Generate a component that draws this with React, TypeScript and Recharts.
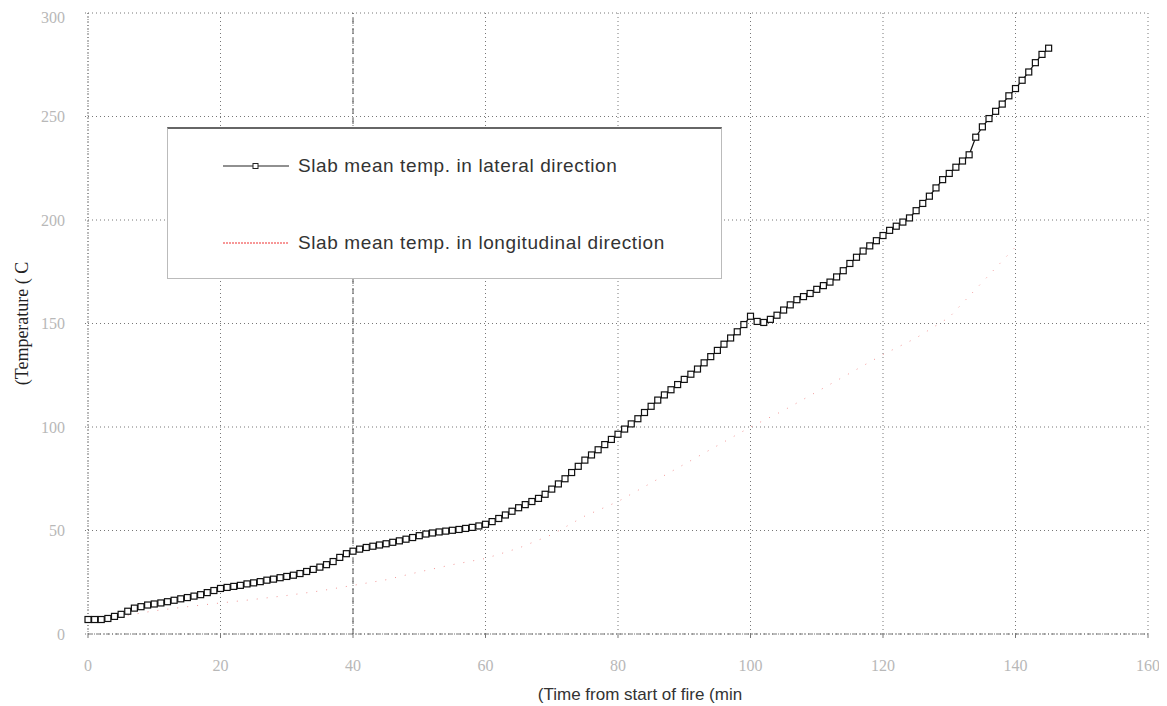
import React from 'react';
import {
  LineChart,
  Line,
  XAxis,
  YAxis,
  CartesianGrid,
  ReferenceLine,
} from 'recharts';

// lateral direction: one reading per minute, starting at t = 0
const lateralTemps = [
  7, 7, 7, 7.5, 8.5, 9.5, 11, 12.5, 13.2, 14,
  14.5, 15, 15.6, 16.3, 17, 17.6, 18.3, 19, 20, 21,
  22, 22.5, 23, 23.5, 24.2, 24.7, 25.3, 26, 26.5, 27.2,
  27.8, 28.4, 29.2, 30.2, 31.2, 32.3, 33.5, 35, 37, 38.8,
  40, 41, 41.8, 42.4, 43, 43.6, 44.3, 45, 45.8, 46.6,
  47.5, 48.3, 48.8, 49.3, 49.7, 50.1, 50.5, 51, 51.5, 52.2,
  53, 54.3, 55.8, 57.5, 59.3, 61, 62.5, 64, 65.5, 67.5,
  70, 72.5, 75, 78, 81, 84, 86.5, 89, 91.5, 94,
  96.5, 99, 101.5, 104, 107, 110, 113, 115.5, 118, 120.5,
  123, 125.5, 128, 131, 134, 137, 140, 143, 146, 149.5,
  153.5, 151, 150.5, 152, 154, 156.5, 159, 161.5, 163, 164.5,
  166.5, 168.3, 170, 172.5, 175.5, 179, 182, 185, 187.5, 190,
  192.5, 195, 197, 199, 201, 204.5, 208, 211.5, 215.5, 219.5,
  222.5, 225.5, 228.5, 231.5, 240, 245, 249, 252.5, 256, 260,
  263.5, 267.5, 271.5, 276, 280, 283,
];

// longitudinal direction: sparse readings
const longTimes = [0, 5, 10, 15, 20, 25, 30, 35, 40, 45, 50, 55, 60, 65, 70, 75, 80, 85, 90, 95, 100, 105, 110, 115, 120, 125, 130, 135, 140];
const longTemps = [7, 8.5, 11.2, 13.2, 15, 16.7, 18.6, 20.8, 23.5, 26.2, 30, 33.5, 36.5, 41.5, 48, 57, 64, 73, 82, 91, 100, 108, 117, 126, 135, 143, 153, 170, 187];

const xTicks = [0, 20, 40, 60, 80, 100, 120, 140, 160];
const yTicks = [0, 50, 100, 150, 200, 250, 300];

const lateralLabel = 'Slab mean temp. in lateral direction';
const longLabel = 'Slab mean temp. in longitudinal direction';

const lateralData = lateralTemps.map((v, i) => ({ t: i, lateral: v }));
const longData = longTimes.map((t, i) => ({ t, longitudinal: longTemps[i] }));

const SquareDot = (props: any) => {
  const { cx, cy, index } = props;
  if (cx == null || cy == null) return <g key={index} />;
  return (
    <rect
      key={index}
      x={cx - 3}
      y={cy - 3}
      width={6}
      height={6}
      fill="#fff"
      stroke="#111"
      strokeWidth={1.2}
    />
  );
};

const legendText: React.CSSProperties = {
  marginLeft: 9,
  letterSpacing: 0.6,
};

const LegendBox = () => (
  <div
    style={{
      position: 'absolute',
      left: 159,
      top: 119,
      width: 555,
      height: 152,
      boxSizing: 'border-box',
      background: '#fff',
      border: '1px solid #bbb',
      borderTop: '2px solid #666',
      fontFamily: '"Liberation Sans", Arial, sans-serif',
      fontSize: 19,
      color: '#333',
    }}
  >
    <div style={{ position: 'absolute', left: 55, top: 26, display: 'flex', alignItems: 'center' }}>
      <svg width={66} height={10}>
        <line x1={0} y1={5} x2={66} y2={5} stroke="#222" strokeWidth={1.2} />
        <rect x={30} y={2.5} width={5} height={5} fill="#fff" stroke="#222" />
      </svg>
      <span style={legendText}>{lateralLabel}</span>
    </div>
    <div style={{ position: 'absolute', left: 55, top: 103, display: 'flex', alignItems: 'center' }}>
      <svg width={66} height={10}>
        <line x1={0} y1={5} x2={66} y2={5} stroke="#f03030" strokeWidth={1.2} strokeDasharray="2 1" />
      </svg>
      <span style={legendText}>{longLabel}</span>
    </div>
  </div>
);

const tickStyle = { fill: '#b8b8b8', fontSize: 16, fontFamily: '"Liberation Serif", serif' };

export default function App() {
  return (
    <div style={{ position: 'relative', width: 1159, height: 698 }}>
      <LineChart
        width={1159}
        height={698}
        margin={{ top: 5, right: 19, left: 0, bottom: 0 }}
      >
        <CartesianGrid stroke="#777" strokeDasharray="1 3" />
        <XAxis
          type="number"
          dataKey="t"
          domain={[0, 160]}
          ticks={xTicks}
          height={72}
          stroke="#777"
          strokeDasharray="4 2 1 2"
          tickSize={4}
          tickMargin={22}
          tick={tickStyle}
          label={{
            value: '(Time from start of fire (min',
            position: 'insideBottom',
            offset: 6,
            dx: 22,
            style: { fill: '#333', fontSize: 17, fontFamily: '"Liberation Sans", Arial, sans-serif' },
          }}
        />
        <YAxis
          type="number"
          domain={[0, 300]}
          ticks={yTicks}
          width={80}
          stroke="#777"
          strokeDasharray="1 2"
          tickSize={3}
          tickMargin={20}
          tick={tickStyle}
          label={{
            value: '(Temperature ( C',
            angle: -90,
            position: 'center',
            dx: -26,
            style: { fill: '#222', fontSize: 18, fontFamily: '"Liberation Serif", serif' },
          }}
        />
        <ReferenceLine x={40} stroke="#555" strokeDasharray="6 4" />
        <Line
          data={longData}
          dataKey="longitudinal"
          name={longLabel}
          stroke="#e84040"
          strokeOpacity={0.55}
          strokeWidth={1}
          strokeDasharray="1 9"
          dot={false}
          isAnimationActive={false}
        />
        <Line
          data={lateralData}
          dataKey="lateral"
          name={lateralLabel}
          stroke="#111"
          strokeWidth={1.2}
          dot={SquareDot}
          isAnimationActive={false}
        />
      </LineChart>
      <LegendBox />
    </div>
  );
}
